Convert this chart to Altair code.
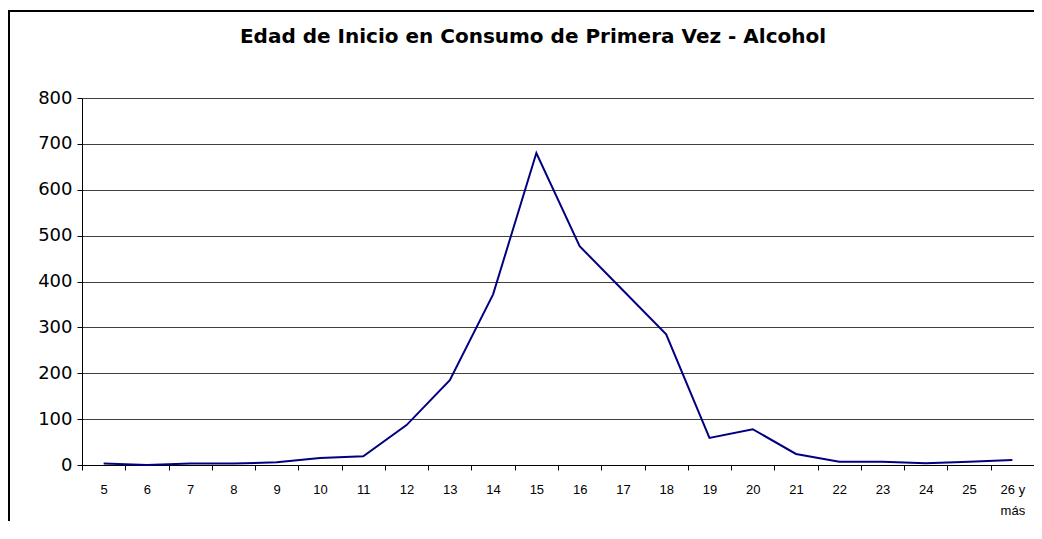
import altair as alt
import pandas as pd

edades = ["5", "6", "7", "8", "9", "10", "11", "12", "13", "14", "15", "16",
          "17", "18", "19", "20", "21", "22", "23", "24", "25", "26 y más"]
casos = [3, 0, 3, 3, 6, 15, 19, 87, 185, 372, 680, 477,
         381, 285, 59, 78, 24, 7, 7, 4, 7, 11]

titulo = "Edad de Inicio en Consumo de Primera Vez - Alcohol"

df = pd.DataFrame({"edad": edades, "casos": casos})

x = alt.X("edad:N", sort=edades, title=None,
          scale=alt.Scale(type="band", paddingInner=0, paddingOuter=0),
          axis=alt.Axis(labelAngle=0, tickBand="extent", grid=False,
                        domainColor="black", tickColor="black", tickSize=5,
                        labelFont="Liberation Sans", labelFontSize=13,
                        labelColor="black", labelPadding=13, labelLineHeight=21,
                        labelExpr="datum.value == '26 y más' ? ['26 y', 'más'] : datum.value"))
y = alt.Y("casos:Q", title=None,
          scale=alt.Scale(domain=[0, 800], nice=False),
          axis=alt.Axis(values=[0, 100, 200, 300, 400, 500, 600, 700, 800],
                        grid=True, gridColor="#404040", gridWidth=1,
                        domainColor="black", tickColor="black", tickSize=5,
                        labelFont="DejaVu Sans", labelFontSize=18,
                        labelColor="black", labelPadding=5))

line = alt.Chart(df).mark_line(color="#000080", strokeWidth=2).encode(x=x, y=y)

frame = alt.Chart(pd.DataFrame({"a": [0]})).mark_rect(
    fill=None, stroke="black", strokeWidth=2
).encode(x=alt.value(-73), x2=alt.value(1200), y=alt.value(-87), y2=alt.value(700))

title_mark = alt.Chart(pd.DataFrame({"t": [titulo]})).mark_text(
    font="DejaVu Sans", fontSize=20, fontWeight="bold", color="black",
    align="center", baseline="middle"
).encode(text="t:N", x=alt.value(451), y=alt.value(-61))

chart = alt.layer(line, frame, title_mark).properties(
    width=952, height=367,
    autosize=alt.AutoSizeParams(type="none"),
    padding={"left": 74, "top": 90, "right": 0, "bottom": 56},
).configure_view(stroke="#808080", strokeWidth=1)

chart.save("out.html", embed_options={"renderer": "svg", "actions": False})
